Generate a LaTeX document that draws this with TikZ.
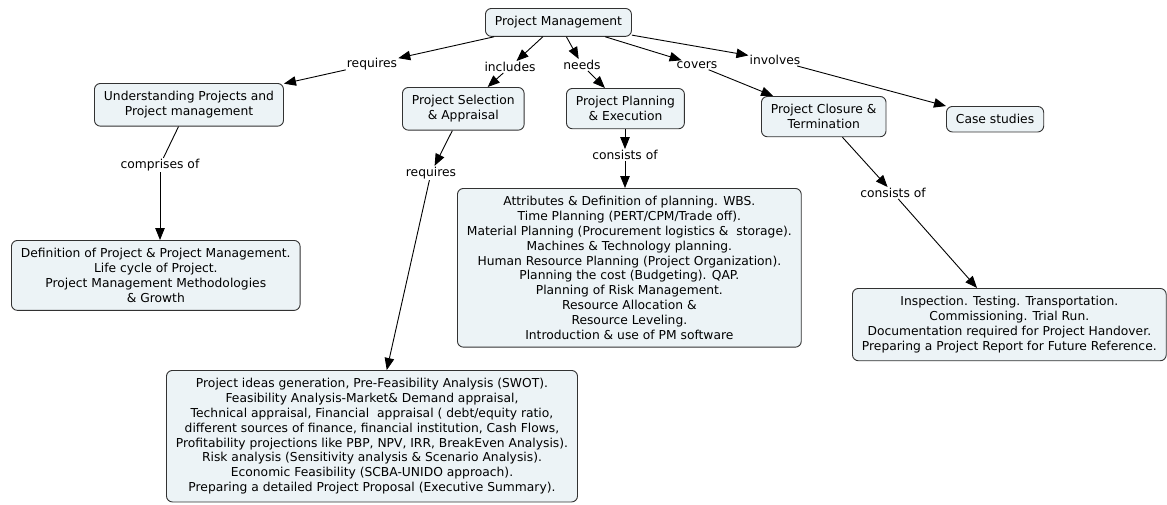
\documentclass[tikz,border=0pt]{standalone}
\usepackage{fontspec}
\setmainfont{DejaVu Sans}
\usetikzlibrary{arrows.meta}
\definecolor{boxfill}{RGB}{236,243,246}
\definecolor{boxline}{RGB}{50,50,50}
\begin{document}
\begin{tikzpicture}[x=1pt,y=-1pt,
  concept/.style={draw=boxline, fill=boxfill, rounded corners=6pt, line width=0.9pt,
    align=center, inner xsep=9.5pt, inner ysep=8pt, anchor=north west,
    font=\fontsize{12.3}{14.8}\selectfont},
  lbl/.style={inner sep=1pt, font=\fontsize{12.3}{14.8}\selectfont},
  link/.style={line width=0.9pt, draw=black},
  arr/.style={link, -{Triangle[length=12pt,width=9.5pt]}}
]
\useasboundingbox (0,0) rectangle (1167,504);

% concepts
\node[concept] (pm) at (485,8) {Project Management};
\node[concept] (und) at (94,83) {Understanding Projects and\\Project management};
\node[concept] (sel) at (402,87) {Project Selection\\\& Appraisal};
\node[concept] (plan) at (566,88) {Project Planning\\\& Execution};
\node[concept] (clos) at (761,96) {Project Closure \&\\Termination};
\node[concept] (case) at (946,106) {Case studies};

\node[concept] (def) at (11,240) {Definition of Project \& Project Management.\\Life cycle of Project.\\Project Management Methodologies\\\& Growth};
\node[concept] (attr) at (457,188) {Attributes \& Definition of planning. WBS.\\Time Planning (PERT/CPM/Trade off).\\Material Planning (Procurement logistics \&\ \ storage).\\Machines \& Technology planning.\\Human Resource Planning (Project Organization).\\Planning the cost (Budgeting). QAP.\\Planning of Risk Management.\\Resource Allocation \&\\Resource Leveling.\\Introduction \& use of PM software};
\node[concept] (insp) at (852,288) {Inspection. Testing. Transportation.\\Commissioning. Trial Run.\\Documentation required for Project Handover.\\Preparing a Project Report for Future Reference.};
\node[concept] (idea) at (166,370) {Project ideas generation, Pre-Feasibility Analysis (SWOT).\\Feasibility Analysis-Market\& Demand appraisal,\\Technical appraisal, Financial\ \ appraisal ( debt/equity ratio,\\different sources of finance, financial institution, Cash Flows,\\Profitability projections like PBP, NPV, IRR, BreakEven Analysis).\\Risk analysis (Sensitivity analysis \& Scenario Analysis).\\Economic Feasibility (SCBA-UNIDO approach).\\Preparing a detailed Project Proposal (Executive Summary).};

% link labels
\node[lbl] (req1) at (372,64) {requires};
\node[lbl] (inc) at (510,67) {includes};
\node[lbl] (needs) at (582,65) {needs};
\node[lbl] (cov) at (697,65) {covers};
\node[lbl] (inv) at (775,60) {involves};
\node[lbl] (comp) at (160,165) {comprises of};
\node[lbl] (req2) at (431,173) {requires};
\node[lbl] (cons1) at (625,155) {consists of};
\node[lbl] (cons2) at (893,193) {consists of};

% connectors
\draw[arr] (pm) -- (req1);
\draw[arr] (req1) -- (und);
\draw[arr] (pm) -- (inc);
\draw[arr] (inc) -- (sel);
\draw[arr] (pm) -- (needs);
\draw[arr] (needs) -- (plan);
\draw[arr] (pm) -- (cov);
\draw[arr] (cov) -- (clos);
\draw[arr] (pm) -- (inv);
\draw[arr] (inv) -- (case);
\draw[link] (und) -- (comp);
\draw[arr] (comp.south) -- (comp.south |- def.north);
\draw[arr] (sel) -- (req2);
\draw[arr] (req2) -- (idea);
\draw[arr] (plan.south -| cons1.north) -- (cons1.north);
\draw[arr] (cons1.south) -- (cons1.south |- attr.north);
\draw[arr] (clos) -- (cons2);
\draw[arr] (cons2) -- (insp);
\end{tikzpicture}
\end{document}
